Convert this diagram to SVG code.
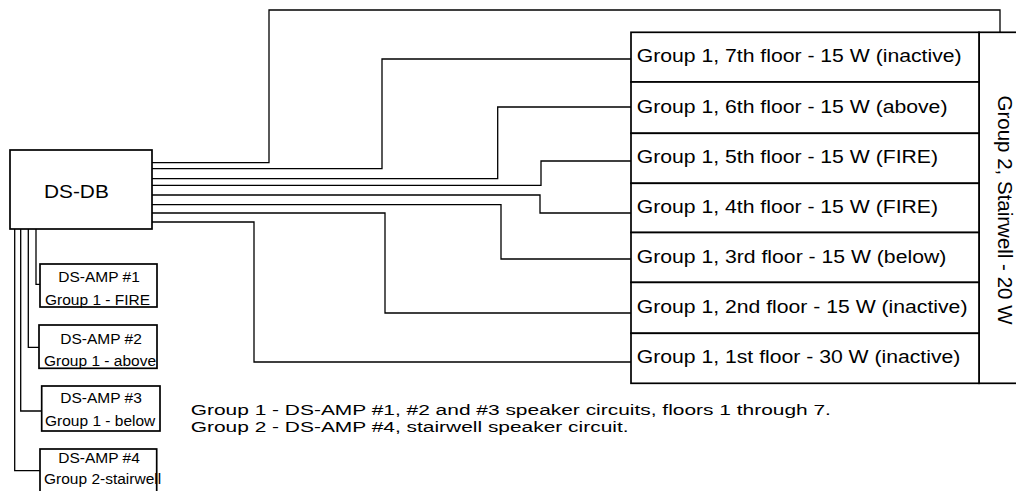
<svg xmlns="http://www.w3.org/2000/svg" width="1016" height="491" viewBox="0 0 1016 491">
<style>
.box{fill:#fff;stroke:#000;stroke-width:1.7}
.ln{fill:none;stroke:#000;stroke-width:1.3}
text{font-family:"Liberation Sans",Arial,sans-serif;fill:#000}
.fl{font-size:18.5px}
.amp{font-size:14.5px}
.note{font-size:15.5px}
</style>
<rect width="1016" height="491" fill="#fff"/>
<g id="connectors">
<polyline class="ln" points="152,162.7 269,162.7 269,10 1000,10 1000,32.3"/>
<polyline class="ln" points="152,168.7 382,168.7 382,59 631,59"/>
<polyline class="ln" points="152,178.7 497.7,178.7 497.7,107 631,107"/>
<polyline class="ln" points="152,185.3 541,185.3 541,161 631,161"/>
<polyline class="ln" points="152,195 540,195 540,213 631,213"/>
<polyline class="ln" points="152,204.7 501,204.7 501,259 631,259"/>
<polyline class="ln" points="152,213 385,213 385,313 631,313"/>
<polyline class="ln" points="152,222 254,222 254,362 631,362"/>
<polyline class="ln" points="36,229 36,284.3 40,284.3"/>
<polyline class="ln" points="28.3,229 28.3,347.3 39,347.3"/>
<polyline class="ln" points="20.7,229 20.7,411 41.7,411"/>
<polyline class="ln" points="14.7,229 14.7,470.7 40,470.7"/>
</g>
<g id="group2">
<rect class="box" x="979" y="32.3" width="60" height="351"/>
<text transform="translate(997.5,210) rotate(90)" text-anchor="middle" style="font-size:20.5px">Group 2, Stairwell - 20 W</text>
</g>
<g id="floor7"><rect class="box" x="631" y="32.3" width="348" height="49.7"/><text class="fl" transform="translate(636.7,62.2) scale(1.146 1)">Group 1, 7th floor - 15 W (inactive)</text></g>
<g id="floor6"><rect class="box" x="631" y="82" width="348" height="51.3"/><text class="fl" transform="translate(636.7,112.7) scale(1.146 1)">Group 1, 6th floor - 15 W (above)</text></g>
<g id="floor5"><rect class="box" x="631" y="133.3" width="348" height="50"/><text class="fl" transform="translate(636.7,163.3) scale(1.146 1)">Group 1, 5th floor - 15 W (FIRE)</text></g>
<g id="floor4"><rect class="box" x="631" y="183.3" width="348" height="49.2"/><text class="fl" transform="translate(636.7,212.9) scale(1.146 1)">Group 1, 4th floor - 15 W (FIRE)</text></g>
<g id="floor3"><rect class="box" x="631" y="232.5" width="348" height="49.9"/><text class="fl" transform="translate(636.7,262.5) scale(1.146 1)">Group 1, 3rd floor - 15 W (below)</text></g>
<g id="floor2"><rect class="box" x="631" y="282.4" width="348" height="50.9"/><text class="fl" transform="translate(636.7,312.9) scale(1.146 1)">Group 1, 2nd floor - 15 W (inactive)</text></g>
<g id="floor1"><rect class="box" x="631" y="333.3" width="348" height="50"/><text class="fl" transform="translate(636.7,363.3) scale(1.146 1)">Group 1, 1st floor - 30 W (inactive)</text></g>
<g id="dsdb"><rect class="box" x="10" y="150" width="142" height="79"/><text transform="translate(44,198.3) scale(1.12 1)" style="font-size:18.6px">DS-DB</text></g>
<g id="amp1"><rect class="box" x="40" y="264" width="117" height="43"/>
<text class="amp" text-anchor="middle" transform="translate(99,281.5) scale(1.07 1)">DS-AMP #1</text>
<text class="amp" transform="translate(45,304.5) scale(1.07 1)">Group 1 - FIRE</text></g>
<g id="amp2"><rect class="box" x="39" y="325" width="118" height="43.3"/>
<text class="amp" text-anchor="middle" transform="translate(101,344) scale(1.07 1)">DS-AMP #2</text>
<text class="amp" transform="translate(44,366) scale(1.07 1)">Group 1 - above</text></g>
<g id="amp3"><rect class="box" x="41.7" y="386" width="118.3" height="45"/>
<text class="amp" text-anchor="middle" transform="translate(101,403.3) scale(1.07 1)">DS-AMP #3</text>
<text class="amp" transform="translate(45,425.7) scale(1.07 1)">Group 1 - below</text></g>
<g id="amp4"><rect class="box" x="40" y="449" width="116.7" height="60"/>
<text class="amp" text-anchor="middle" transform="translate(99,462.5) scale(1.07 1)">DS-AMP #4</text>
<text class="amp" transform="translate(44,484) scale(1.07 1)">Group 2-stairwell</text></g>
<g id="notes">
<text class="note" transform="translate(190.7,414.5) scale(1.35 1)">Group 1 - DS-AMP #1, #2 and #3 speaker circuits, floors 1 through 7.</text>
<text class="note" transform="translate(190.7,431.5) scale(1.35 1)">Group 2 - DS-AMP #4, stairwell speaker circuit.</text>
</g>
</svg>
